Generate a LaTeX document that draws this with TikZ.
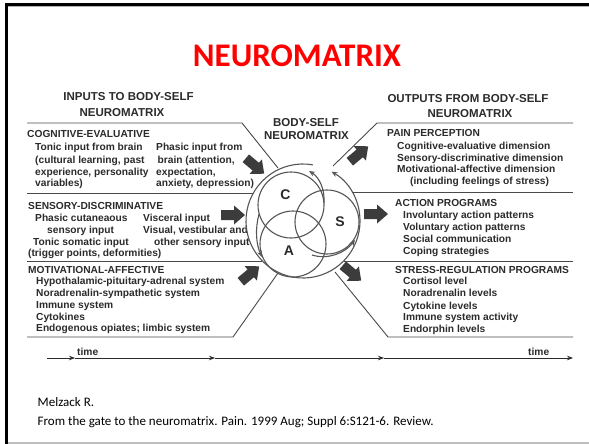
\documentclass[tikz,border=0pt]{standalone}
\usepackage{fontspec}
\setmainfont{Carlito}
\newfontfamily\diagfont{Liberation Sans}
\usetikzlibrary{calc,arrows.meta}
\definecolor{ink}{HTML}{2B2B2B}
\definecolor{rule}{HTML}{4A4A4A}
\definecolor{loopgray}{HTML}{555555}
\definecolor{blockgray}{HTML}{3C3C3C}
\definecolor{titlered}{HTML}{FF0000}
\tikzset{
  body/.style={anchor=base west, inner sep=0pt, text=ink,
    font=\diagfont\bfseries\fontsize{10.2}{12}\selectfont},
  head/.style={anchor=base, inner sep=0pt, text=ink,
    font=\diagfont\bfseries\fontsize{11.5}{13}\selectfont},
  letter/.style={anchor=center, inner sep=0pt, text=ink,
    font=\diagfont\bfseries\fontsize{14}{16}\selectfont},
  panel/.style={draw=rule, line width=0.9pt},
  loop/.style={draw=loopgray, line width=1.1pt},
  loopout/.style={loop, -{Stealth[length=6pt,width=5pt]}},
  taxis/.style={draw=ink, line width=0.8pt, -{Stealth[length=6pt,width=4.5pt]}},
  cite/.style={anchor=base west, inner sep=0pt, text=black,
    font=\fontsize{13}{15}\selectfont},
  blockarrow/.pic={
    \fill[blockgray] (-12,-5) -- (1,-5) -- (1,-9.5) -- (12,0) -- (1,9.5)
      -- (1,5) -- (-12,5) -- cycle;
  },
}
\begin{document}
\begin{tikzpicture}[x=1pt,y=-1pt]
\useasboundingbox (0,0) rectangle (589,444);
\fill[white] (0,0) rectangle (589,444);

% slide frame
\draw[gray!60, line width=1pt] (5,6.6) -- (589,6.6);
\draw[black, line width=2.7pt] (5,4.7) -- (589,4.7);
\draw[gray!50, line width=1.6pt] (8,443.2) -- (589,443.2);
\draw[black, line width=2.7pt] (6.5,3.4) -- (6.5,444);

% title
\node[anchor=base, inner sep=0pt, text=titlered,
  font=\bfseries\fontsize{33}{36}\selectfont] (title) at (297,66.5) {NEUROMATRIX};

% column headings
\node[head] (inh1) at (128.5,100.7) {INPUTS TO BODY-SELF};
\node[head] (inh2) at (122,116) {NEUROMATRIX};
\node[head] (mh1) at (306,126.7) {BODY-SELF};
\node[head] (mh2) at (306.5,139.3) {NEUROMATRIX};
\node[head] (outh1) at (468,102.7) {OUTPUTS FROM BODY-SELF};
\node[head] (outh2) at (470,117.3) {NEUROMATRIX};

% panel frames, left
\coordinate (la) at (27,123);   \coordinate (lb) at (242,123);  \coordinate (lc) at (278,168);
\coordinate (ld) at (27,193);   \coordinate (le) at (253,193);
\coordinate (lf) at (27,261);   \coordinate (lg) at (262,261);
\coordinate (lh) at (27,337);   \coordinate (li) at (233,337);  \coordinate (lj) at (278,273);
\draw[panel] (la) -- (lb) -- (lc);
\draw[panel] (ld) -- (le);
\draw[panel] (lf) -- (lg);
\draw[panel] (lh) -- (li) -- (lj);
% panel frames, right
\coordinate (ra) at (573,123);  \coordinate (rb) at (377,123);  \coordinate (rc) at (333,166);
\coordinate (rd) at (352,192);  \coordinate (re) at (573,192);
\coordinate (rf) at (344,261);  \coordinate (rg) at (573,261);
\coordinate (rh) at (573,337);  \coordinate (ri) at (388,337);  \coordinate (rj) at (335,272);
\draw[panel] (ra) -- (rb) -- (rc);
\draw[panel] (rd) -- (re);
\draw[panel] (rf) -- (rg);
\draw[panel] (rh) -- (ri) -- (rj);

% inputs
\node[body] (cogT) at (27,137.7) {COGNITIVE-EVALUATIVE};
\foreach \x/\y/\t [count=\i] in {
  35/150.7/{Tonic input from brain},
  35/163.2/{(cultural learning, past},
  35/175.4/{experience, personality},
  35/186.7/{variables)},
  156/150.7/{Phasic input from},
  157.5/163.2/{brain (attention,},
  156/175.4/{expectation,},
  156/186.7/{anxiety, depression)}}
  \node[body] (cog\i) at (\x,\y) {\t};

\node[body] (senT) at (28,209.7) {SENSORY-DISCRIMINATIVE};
\foreach \x/\y/\t [count=\i] in {
  35/221.7/{Phasic cutaneaous},
  47/233.7/{sensory input},
  33/245.7/{Tonic somatic input},
  28/256.7/{(trigger points, deformities)},
  143/221.7/{Visceral input},
  143/233.7/{Visual, vestibular and},
  154/245.7/{other sensory input}}
  \node[body] (sen\i) at (\x,\y) {\t};

\node[body] (motT) at (28,273.7) {MOTIVATIONAL-AFFECTIVE};
\foreach \y/\t [count=\i] in {
  284.7/{Hypothalamic-pituitary-adrenal system},
  296.7/{Noradrenalin-sympathetic system},
  308.7/{Immune system},
  320.7/{Cytokines},
  331.7/{Endogenous opiates; limbic system}}
  \node[body] (mot\i) at (36,\y) {\t};

% outputs
\node[body] (painT) at (387,136.7) {PAIN PERCEPTION};
\foreach \x/\y/\t [count=\i] in {
  397/149.7/{Cognitive-evaluative dimension},
  397/161.7/{Sensory-discriminative dimension},
  397/172.7/{Motivational-affective dimension},
  410/184.7/{(including feelings of stress)}}
  \node[body] (pain\i) at (\x,\y) {\t};

\node[body] (actT) at (395,206.7) {ACTION PROGRAMS};
\foreach \y/\t [count=\i] in {
  218.7/{Involuntary action patterns},
  230.7/{Voluntary action patterns},
  242.7/{Social communication},
  254.7/{Coping strategies}}
  \node[body] (act\i) at (403,\y) {\t};

\node[body] (strT) at (395,273.7) {STRESS-REGULATION PROGRAMS};
\foreach \y/\t [count=\i] in {
  284.7/{Cortisol level},
  296.7/{Noradrenalin levels},
  309.7/{Cytokine levels},
  320.7/{Immune system activity},
  332.7/{Endorphin levels}}
  \node[body] (str\i) at (403,\y) {\t};

% block arrows into and out of the neuromatrix
\pic[rotate=-40] (inC) at (255,166) {blockarrow};
\pic (inS) at (233,215) {blockarrow};
\pic[rotate=40] (inA) at (250,274) {blockarrow};
\pic[rotate=40] (outP) at (359,154) {blockarrow};
\pic (outA) at (376,214) {blockarrow};
\pic[rotate=-40] (outS) at (352,273) {blockarrow};

% the neuromatrix: outer loop and three neuromodules
\coordinate (bc) at (303,221);
\coordinate (cc) at (291,205);
\coordinate (sc) at (327,222);
\coordinate (ac) at (293,244);
\draw[loopout] ($(bc)+(-80:57)$) arc[start angle=-80, end angle=-420, radius=57];
\draw[loop] (cc) circle[radius=33];
\draw[loop] (sc) circle[radius=32];
\draw[loop] (ac) circle[radius=33];
\coordinate (c1) at (324,203);  \coordinate (c1e) at (309,171);
\draw[loopout] (c1) .. controls (325,189) and (319,177) .. (c1e);
\coordinate (s1) at (312,255);  \coordinate (s1e) at (355,240);
\draw[loopout] (s1) .. controls (328,260) and (345,253) .. (s1e);
\coordinate (a1) at (259,214);  \coordinate (a1e) at (262,257);
\draw[loopout] (a1) .. controls (255,229) and (256,244) .. (a1e);
\node[letter] (lC) at (285.5,195) {C};
\node[letter] (lS) at (340,222) {S};
\node[letter] (lA) at (289,251) {A};

% time axis
\coordinate (t0) at (47,358);
\coordinate (t1) at (75,358);
\coordinate (t2) at (215,358);
\coordinate (t3) at (384,358);
\coordinate (t4) at (573,358);
\draw[taxis] (t0) -- (t1);
\draw[taxis] (t1) -- (t2);
\draw[taxis] (t2) -- (t3);
\draw[taxis] (t3) -- (t4);
\node[body] (timeL) at (77,355.5) {time};
\node[body] (timeR) at (528,355.5) {time};

% reference
\node[cite] (ref1) at (37.5,406.8) {Melzack R.};
\node[cite] (ref2) at (37.5,425.5) {From the gate to the neuromatrix. Pain. 1999 Aug; Suppl 6:S121-6. Review.};
\end{tikzpicture}
\end{document}
